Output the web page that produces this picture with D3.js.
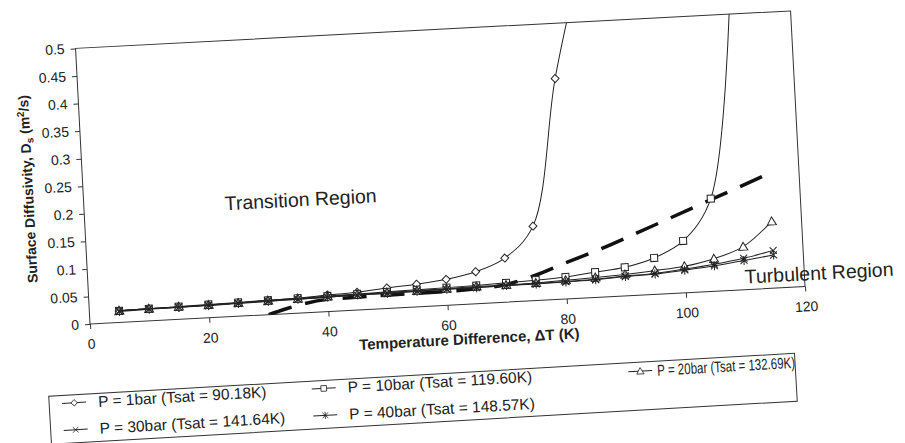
<!DOCTYPE html>
<html>
<head>
<meta charset="utf-8">
<style>
  body { margin: 0; background: #fff; }
  svg { display: block; font-family: Arial, "Liberation Sans", sans-serif; }
  .tick text { font-size: 14px; fill: #222; }
  .tick line { stroke: #333; }
  .series { fill: none; stroke: #222; stroke-width: 1; }
  .marker { fill: #fff; stroke: #222; stroke-width: 1; }
</style>
<title>Surface diffusivity</title>
</head>
<body>
<script src="https://cdn.jsdelivr.net/npm/d3@7"></script>
<script>

// Temperature difference (K) shared by all series
var tempDiff = [5, 10, 15, 20, 25, 30, 35, 40, 45, 50, 55, 60, 65, 70, 75, 80, 85, 90, 95, 100, 105, 110, 115];

// Surface diffusivity (m2/s), one array per pressure; values above 0.5 run off the top
var d1bar  = [0.021, 0.022, 0.022, 0.023, 0.024, 0.026, 0.027, 0.030, 0.032, 0.037, 0.041, 0.047, 0.058, 0.080, 0.135, 0.40, 0.60];
var d10bar = [0.021, 0.022, 0.023, 0.024, 0.025, 0.026, 0.027, 0.028, 0.029, 0.030, 0.031, 0.032, 0.033, 0.035, 0.037, 0.040, 0.046, 0.052, 0.066, 0.094, 0.168, 0.54];
var d20bar = [0.021, 0.022, 0.023, 0.023, 0.024, 0.025, 0.026, 0.027, 0.028, 0.029, 0.029, 0.030, 0.031, 0.031, 0.032, 0.034, 0.036, 0.039, 0.043, 0.048, 0.059, 0.078, 0.121];
var d30bar = [0.021, 0.022, 0.022, 0.023, 0.024, 0.025, 0.025, 0.026, 0.027, 0.028, 0.029, 0.029, 0.030, 0.030, 0.031, 0.032, 0.033, 0.036, 0.038, 0.043, 0.049, 0.057, 0.068];
var d40bar = [0.020, 0.021, 0.022, 0.022, 0.023, 0.024, 0.025, 0.026, 0.027, 0.027, 0.028, 0.029, 0.029, 0.030, 0.030, 0.031, 0.032, 0.035, 0.037, 0.041, 0.046, 0.053, 0.060];

// Transition / turbulent boundary (thick dashed line)
var boundaryX = [30, 33, 40, 50, 60, 65, 70, 75, 80, 85, 95, 105, 115];
var boundaryY = [0, 0.009, 0.022, 0.024, 0.025, 0.027, 0.032, 0.046, 0.065, 0.083, 0.124, 0.166, 0.208];

var seriesNames = ["P = 1bar (Tsat = 90.18K)", "P = 10bar (Tsat = 119.60K)", "P = 20bar (Tsat = 132.69K)",
                   "P = 30bar (Tsat = 141.64K)", "P = 40bar (Tsat = 148.57K)"];
var seriesData = [d1bar, d10bar, d20bar, d30bar, d40bar];
var markerKind = ["diamond", "square", "triangle", "cross", "star"];

var xTicks = [0, 20, 40, 60, 80, 100, 120];
var yTicks = [0, 0.05, 0.1, 0.15, 0.2, 0.25, 0.3, 0.35, 0.4, 0.45, 0.5];

var width = 716, height = 276;

var x = d3.scaleLinear().domain([0, 120]).range([0, width]);
var y = d3.scaleLinear().domain([0, 0.5]).range([height, 0]);

var markerPath = {
  diamond:  "M0,-4L4,0L0,4L-4,0Z",
  square:   "M-3.5,-3.5H3.5V3.5H-3.5Z",
  triangle: "M0,-4.5L4.5,3.5H-4.5Z",
  cross:    "M-3.5,-3.5L3.5,3.5M-3.5,3.5L3.5,-3.5",
  star:     "M-3.5,-3.5L3.5,3.5M-3.5,3.5L3.5,-3.5M0,-4.5V4.5"
};

var svg = d3.select("body").append("svg")
    .attr("width", 905)
    .attr("height", 443);

// the scanned figure sits slightly tilted
var root = svg.append("g")
    .attr("transform", "translate(90,324) rotate(-3)");

var plot = root.append("g")
    .attr("transform", `translate(0,${-height})`);

plot.append("clipPath").attr("id", "clip")
  .append("rect").attr("width", width).attr("height", height);

plot.append("rect")
    .attr("width", width).attr("height", height)
    .attr("fill", "none").attr("stroke", "#333");

// axes
var xAxis = plot.append("g")
    .attr("transform", `translate(0,${height})`)
    .call(d3.axisBottom(x).tickValues(xTicks).tickSize(5).tickSizeOuter(0).tickPadding(10));
xAxis.select(".domain").remove();

var yAxis = plot.append("g")
    .call(d3.axisLeft(y).tickValues(yTicks).tickSize(5).tickSizeOuter(0).tickPadding(6)
      .tickFormat(d => d === 0 ? "0" : String(+d.toFixed(2))));
yAxis.select(".domain").remove();

var line = d3.line()
    .x(d => x(d[0]))
    .y(d => y(d[1]))
    .curve(d3.curveCatmullRom.alpha(0.5));

var inner = plot.append("g").attr("clip-path", "url(#clip)");

// dashed boundary
inner.append("path")
    .datum(boundaryX.map((v, i) => [v, boundaryY[i]]))
    .attr("fill", "none")
    .attr("stroke", "#111")
    .attr("stroke-width", 3.5)
    .attr("stroke-dasharray", "24,14")
    .attr("d", d3.line().x(d => x(d[0])).y(d => y(d[1])).curve(d3.curveMonotoneX));

seriesData.forEach(function(vals, k) {
  var pts = vals.map((v, i) => [tempDiff[i], v]);
  inner.append("path")
      .datum(pts)
      .attr("class", "series")
      .attr("d", line);
  inner.selectAll(".m" + k)
      .data(pts.filter(d => d[1] <= 0.5))
    .enter().append("path")
      .attr("class", "marker m" + k)
      .attr("d", markerPath[markerKind[k]])
      .attr("transform", d => `translate(${x(d[0])},${y(d[1])})`);
});

// region labels
plot.append("text")
    .attr("x", x(23.6)).attr("y", y(0.193))
    .attr("font-size", 19.5).attr("fill", "#222")
    .text("Transition Region");
plot.append("text")
    .attr("x", x(110)).attr("y", y(0.011))
    .attr("font-size", 19.5).attr("fill", "#222")
    .text("Turbulent Region");

// axis titles
root.append("text")
    .attr("x", 378).attr("y", 40)
    .attr("text-anchor", "middle")
    .attr("font-size", 15).attr("font-weight", "bold").attr("fill", "#222")
    .text("Temperature Difference, \u0394T (K)");

var yt = root.append("text")
    .attr("transform", `translate(-50,${-height / 2}) rotate(-90)`)
    .attr("text-anchor", "middle")
    .attr("font-size", 14).attr("font-weight", "bold").attr("fill", "#222");
yt.append("tspan").text("Surface Diffusivity, D");
yt.append("tspan").attr("font-size", 10).attr("dy", 3).text("s");
yt.append("tspan").attr("dy", -3).text(" (m");
yt.append("tspan").attr("font-size", 10).attr("dy", -5).text("2");
yt.append("tspan").attr("dy", 5).text("/s)");

// legend (tilted a touch more than the plot in the scan)
var legend = root.append("g").attr("transform", "translate(-45,70) rotate(-0.3)");
legend.append("rect")
    .attr("width", 747).attr("height", 48)
    .attr("fill", "#fff").attr("stroke", "#333");

var legendPos = [[13, 8], [263, 8], [580, 9], [13, 35], [263, 35]];

seriesNames.forEach(function(name, k) {
  var g = legend.append("g")
      .attr("transform", `translate(${legendPos[k][0]},${legendPos[k][1]})`);
  g.append("line").attr("x1", 0).attr("x2", 24).attr("stroke", "#222");
  g.append("path")
      .attr("class", "marker")
      .attr("d", markerPath[markerKind[k]])
      .attr("transform", "translate(12,0) scale(0.8)");
  var t = g.append("text")
      .attr("x", k === 2 ? 29 : 36).attr("y", 5.5)
      .attr("font-size", 15.5).attr("fill", "#222")
      .text(name);
  // last entry is squeezed against the frame in the scan
  if (k === 2) t.attr("textLength", 138).attr("lengthAdjust", "spacingAndGlyphs");
});

</script>
</body>
</html>
